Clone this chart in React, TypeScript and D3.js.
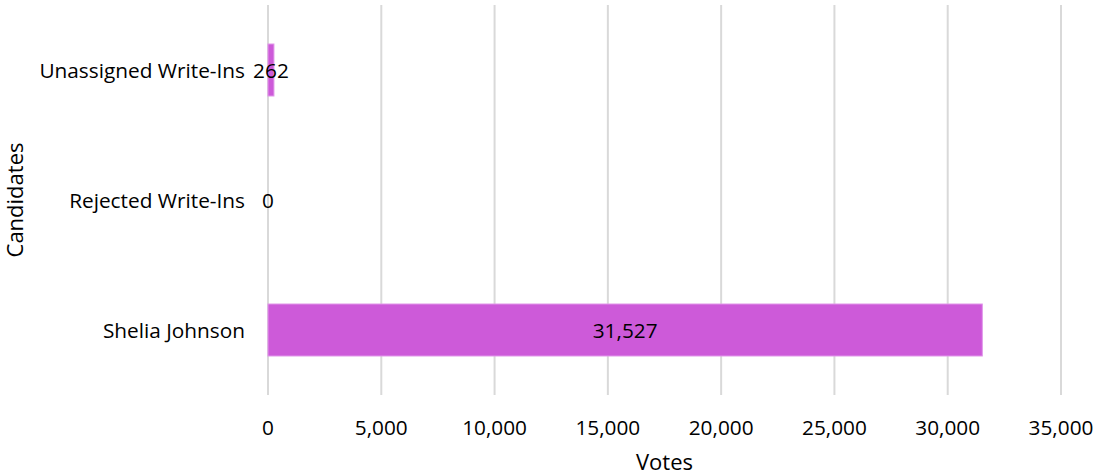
import React from "react";
import * as d3 from "d3";

const categories = ["Unassigned Write-Ins", "Rejected Write-Ins", "Shelia Johnson"];
const votes = [262, 0, 31527];
const xTicks = [0, 5000, 10000, 15000, 20000, 25000, 30000, 35000];

const W = 1094;
const H = 476;
const M = { left: 268, right: 33, top: 5, bottom: 81 };
const FONT = "'Open Sans', sans-serif";
const LABEL = 20.8;
const TITLE = 22;

export default function App() {
  const x = d3.scaleLinear().domain([0, 35000]).range([M.left, W - M.right]);
  const y = d3
    .scaleBand<string>()
    .domain(categories)
    .range([M.top, H - M.bottom])
    .paddingInner(0.6)
    .paddingOuter(0.3);
  const fmt = d3.format(",");
  return (
    <svg
      width={W}
      height={H}
      style={{ position: "absolute", left: 0, top: 0, background: "#fff" }}
      fontFamily={FONT}
    >
      {xTicks.map((t) => (
        <line key={t} x1={x(t)} x2={x(t)} y1={M.top} y2={H - M.bottom} stroke="#d9d9d9" strokeWidth={2} />
      ))}
      {categories.map((c, i) => (
        <g key={c}>
          {votes[i] > 0 && (
            <rect
              x={x(0)}
              y={y(c)!}
              width={x(votes[i]) - x(0)}
              height={y.bandwidth()}
              fill="#cd5ad9"
              stroke="#e196ea"
              strokeWidth={1}
            />
          )}
          <text
            x={M.left - 23}
            y={y(c)! + y.bandwidth() / 2}
            textAnchor="end"
            dominantBaseline="central"
            fontSize={LABEL}
            fill="#000"
          >
            {c}
          </text>
          <text
            x={(x(0) + x(votes[i])) / 2}
            y={y(c)! + y.bandwidth() / 2}
            textAnchor="middle"
            dominantBaseline="central"
            fontSize={LABEL}
            fill="#000"
          >
            {fmt(votes[i])}
          </text>
        </g>
      ))}
      {xTicks.map((t) => (
        <text key={t} x={x(t)} y={427} textAnchor="middle" dominantBaseline="central" fontSize={LABEL} fill="#000">
          {fmt(t)}
        </text>
      ))}
      <text x={(M.left + W - M.right) / 2} y={461} textAnchor="middle" dominantBaseline="central" fontSize={TITLE} fill="#000">
        Votes
      </text>
      <text
        transform={`translate(14,${(M.top + H - M.bottom) / 2}) rotate(-90)`}
        textAnchor="middle"
        dominantBaseline="central"
        fontSize={TITLE}
        fill="#000"
      >
        Candidates
      </text>
    </svg>
  );
}
